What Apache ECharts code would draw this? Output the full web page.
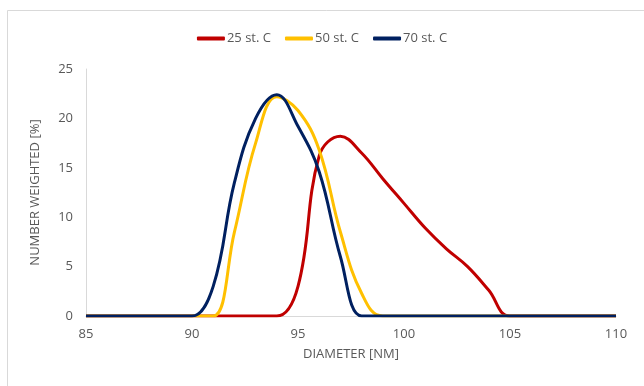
<!DOCTYPE html>
<html>
<head>
<meta charset="utf-8">
<script src="https://cdn.jsdelivr.net/npm/echarts@6/dist/echarts.min.js"></script>
<style>
  html, body { margin: 0; padding: 0; background: #fff; }
  #chart { width: 644px; height: 386px; }
</style>
</head>
<body>
<div id="chart"></div>
<script>
const seriesNames = ["25 st. C", "50 st. C", "70 st. C"];
const seriesColors = ["#C00000", "#FFC000", "#002060"];

// [diameter nm, number weighted %]
const temp25 = [
  [85, 0], [90, 0], [93, 0], [94, 0], [95, 3], [96, 16.2], [97, 18.2],
  [98, 16.5], [99, 13.9], [100, 11.4], [101, 8.9], [102, 6.8], [103, 5.0],
  [104, 2.6], [105, 0], [110, 0]
];
const temp50 = [
  [85, 0], [90, 0], [91, 0], [92, 8.5], [93, 17.5], [94, 22.2], [95, 20.8],
  [96, 16.8], [97, 8.5], [98, 2.3], [99, 0], [105, 0], [110, 0]
];
const temp70 = [
  [85, 0], [89, 0], [90, 0], [91, 3], [92, 13.5], [93, 20], [94, 22.4],
  [95, 19.2], [96, 14.6], [97, 6], [98, 0], [99, 0], [110, 0]
];
const seriesData = [temp25, temp50, temp70];

const chart = echarts.init(document.getElementById("chart"), null, { renderer: "canvas" });

const font = "'Open Sans', 'Liberation Sans', sans-serif";

chart.setOption({
  animation: false,
  backgroundColor: "#fff",
  textStyle: { fontFamily: font },
  graphic: [
    {
      type: "rect",
      shape: { x: 7.5, y: 10.5, width: 660, height: 400 },
      style: { fill: "none", stroke: "#d9d9d9", lineWidth: 1 },
      silent: true
    }
  ],
  legend: {
    top: 27,
    left: "center",
    itemWidth: 28,
    itemHeight: 4,
    itemGap: 14,
    icon: "roundRect",
    textStyle: { color: "#595959", fontSize: 13, fontFamily: font, padding: [0, 0, 0, -3] },
    data: seriesNames
  },
  grid: { left: 86, right: 28, top: 69, bottom: 70 },
  xAxis: {
    type: "value",
    min: 85,
    max: 110,
    interval: 5,
    name: "DIAMETER [NM]",
    nameLocation: "middle",
    nameGap: 32,
    nameTextStyle: { color: "#595959", fontSize: 13 },
    axisLine: { show: true, lineStyle: { color: "#d9d9d9", width: 1 } },
    axisTick: { show: false },
    axisLabel: { color: "#595959", fontSize: 13, margin: 12 },
    splitLine: { show: false }
  },
  yAxis: {
    type: "value",
    min: 0,
    max: 25,
    interval: 5,
    name: "NUMBER WEIGHTED [%]",
    nameLocation: "middle",
    nameGap: 44,
    nameTextStyle: { color: "#595959", fontSize: 13 },
    axisLine: { show: true, lineStyle: { color: "#d9d9d9", width: 1 } },
    axisTick: { show: false },
    axisLabel: { color: "#595959", fontSize: 13, margin: 13 },
    splitLine: { show: false }
  },
  series: seriesData.map((data, i) => ({
    name: seriesNames[i],
    type: "line",
    data: data,
    smooth: 0.4,
    showSymbol: false,
    symbol: "none",
    lineStyle: { color: seriesColors[i], width: 3 },
    itemStyle: { color: seriesColors[i] }
  }))
});
</script>
</body>
</html>
